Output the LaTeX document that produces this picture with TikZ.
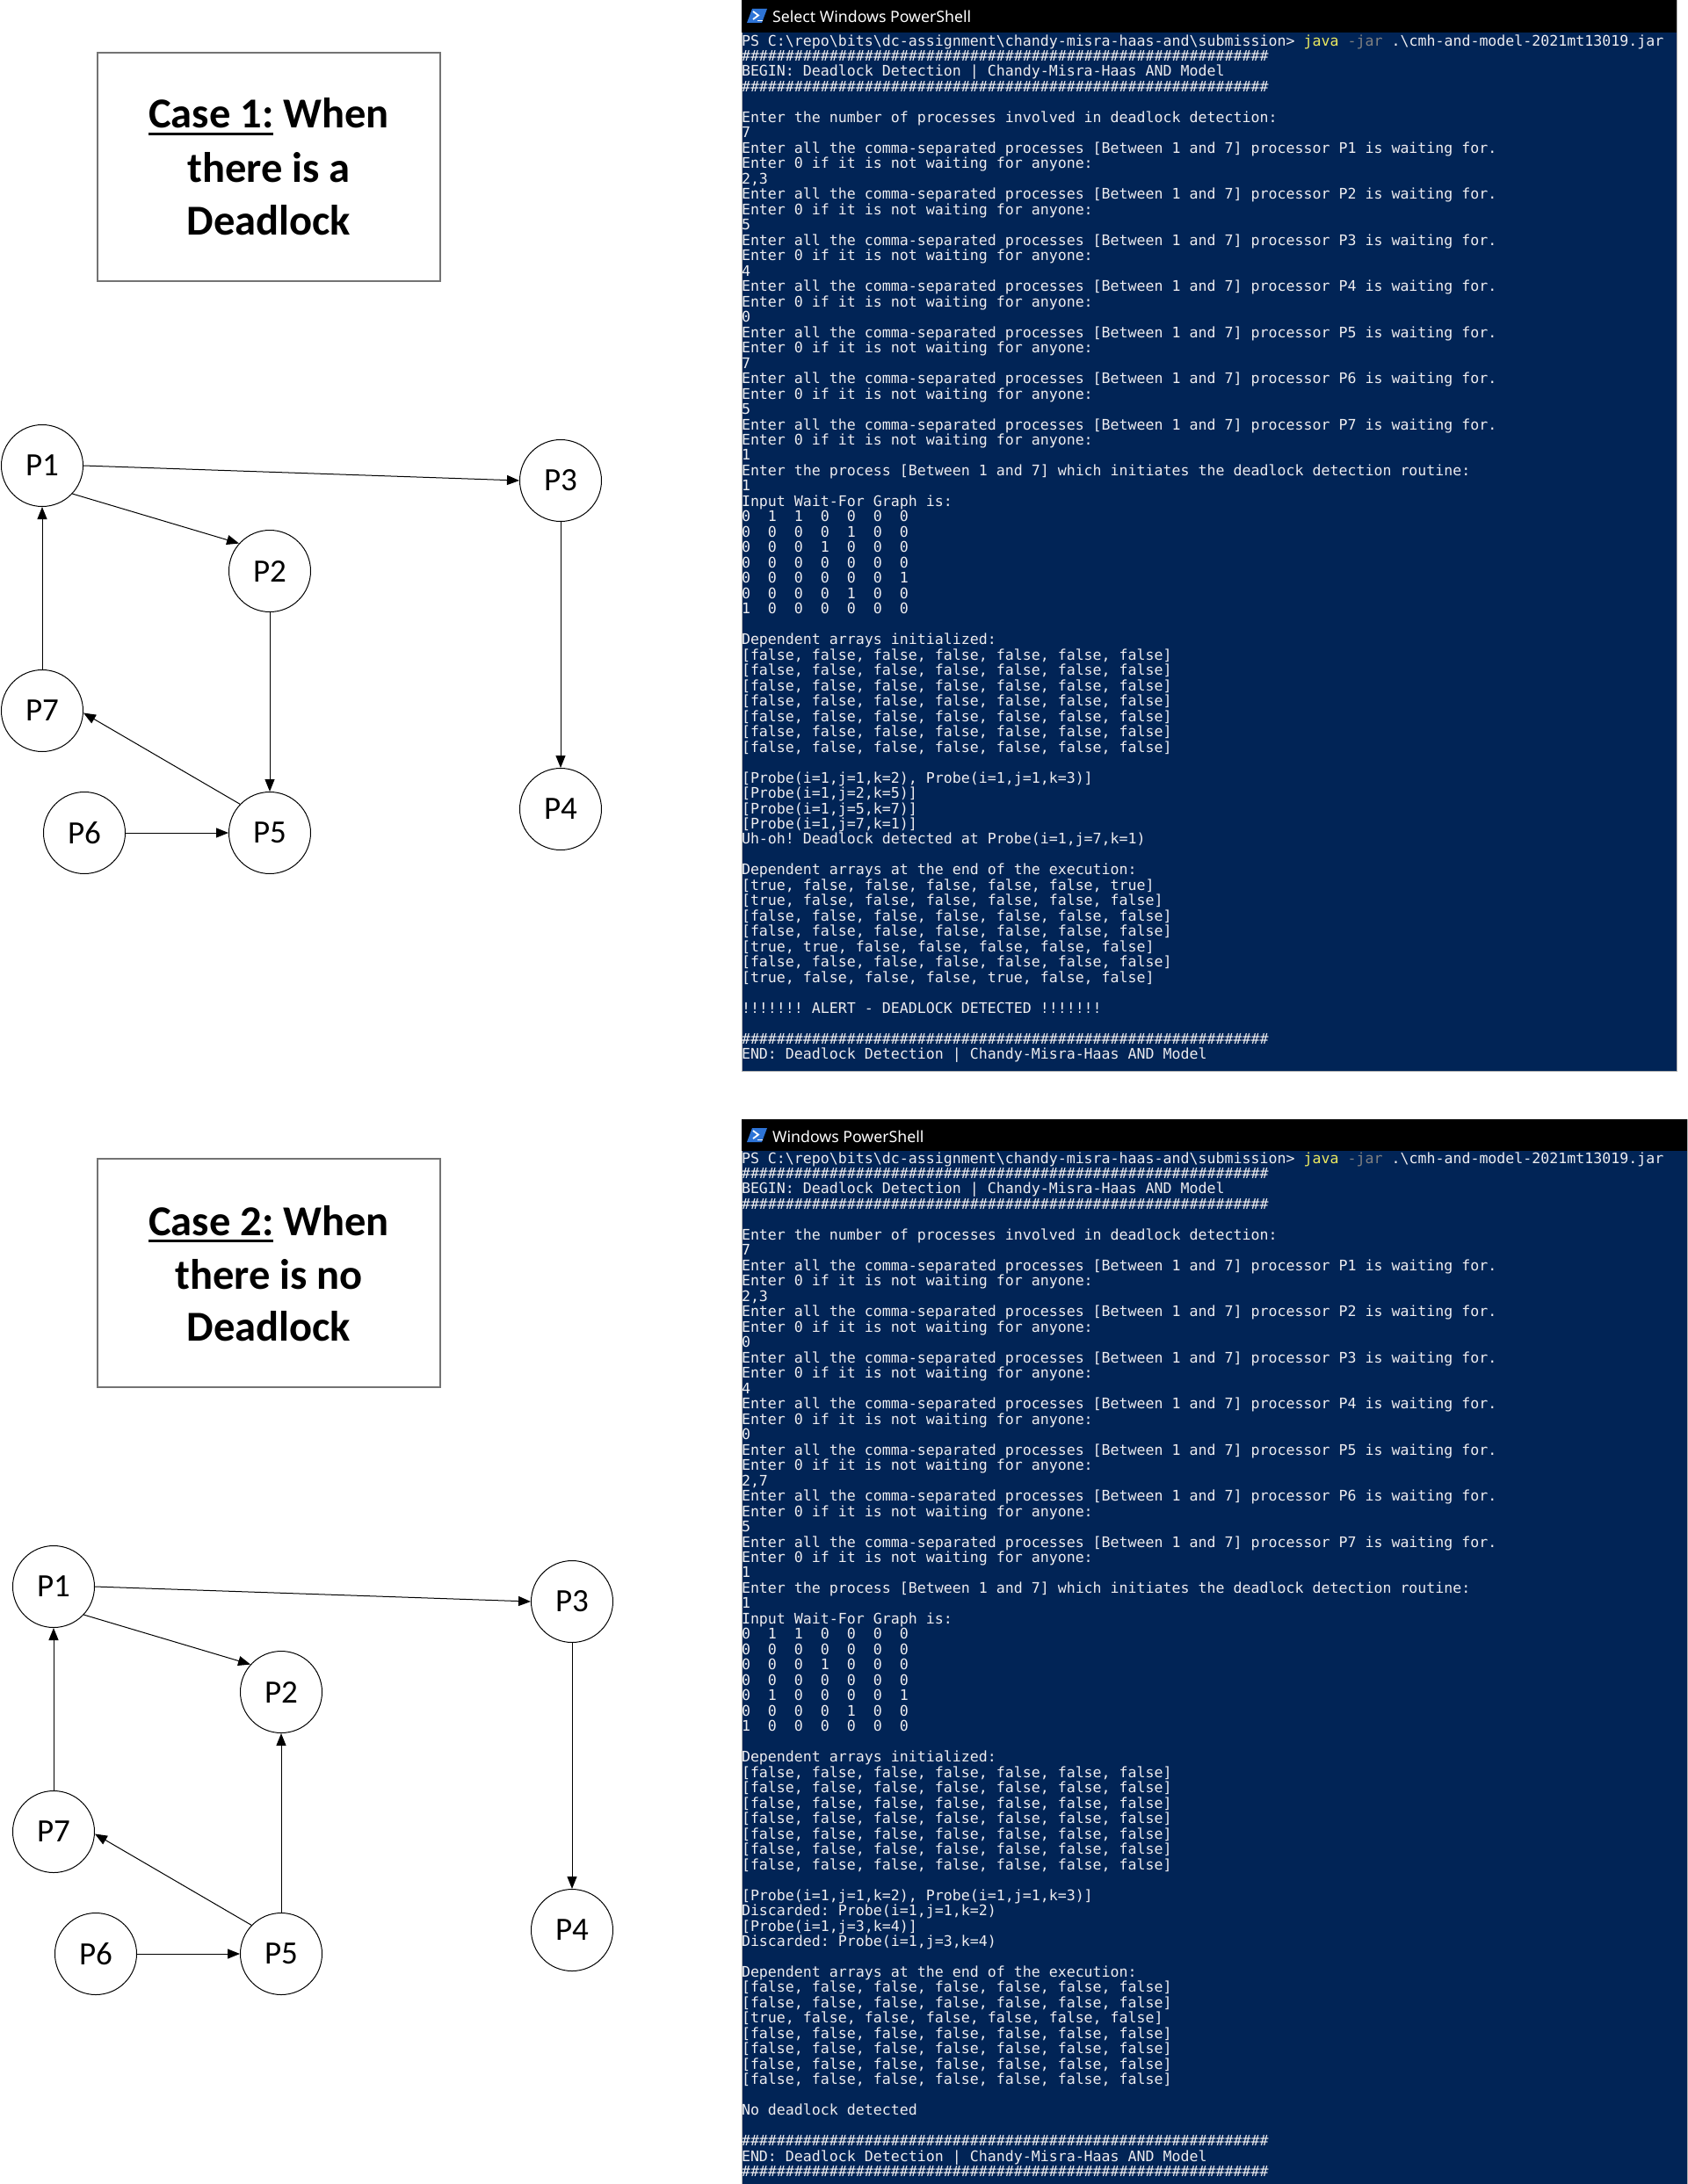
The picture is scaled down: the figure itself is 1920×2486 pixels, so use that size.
\documentclass[tikz,border=0pt]{standalone}
\usepackage{fontspec}
\usepackage{tikz}
\usetikzlibrary{arrows.meta}
\newfontfamily\calfont{Carlito}
\newfontfamily\consfont{DejaVu Sans Mono}
\newfontfamily\uifont{Noto Sans}
\definecolor{psbg}{RGB}{1,36,86}
\definecolor{psfg}{RGB}{238,237,240}
\definecolor{psyellow}{RGB}{236,233,96}
\definecolor{psgray}{RGB}{128,128,128}
\definecolor{psicon}{RGB}{46,116,214}

\newcommand{\termline}[1]{\hbox{\vrule height13pt depth4.48pt width0pt\relax #1}}
\newcommand{\bsl}{\textbackslash}
\newcommand{\tenhash}{\#\#\#\#\#\#\#\#\#\#}
\newcommand{\hashrow}{\tenhash\tenhash\tenhash\tenhash\tenhash\tenhash}
\newcommand{\wfrow}[7]{#1~~#2~~#3~~#4~~#5~~#6~~#7}
\newcommand{\allfalse}{[false, false, false, false, false, false, false]}
\newcommand{\enterall}[1]{Enter all the comma-separated processes [Between 1 and 7] processor P#1 is waiting for.}
\newcommand{\enterzero}{Enter 0 if it is not waiting for anyone:}
\newcommand{\pscmd}{PS C:\bsl repo\bsl bits\bsl dc-assignment\bsl chandy-misra-haas-and\bsl submission> \textcolor{psyellow}{java} \textcolor{psgray}{-jar} .\bsl cmh-and-model-2021mt13019.jar}
\newcommand{\caseul}[1]{\setbox0\hbox{#1}\rlap{\rule[-8.3pt]{\wd0}{3.2pt}}\box0\relax}

\tikzset{
  proc/.style={circle, draw, line width=1pt, minimum size=93pt, inner sep=0pt,
    font=\calfont\fontsize{37}{44}\selectfont},
  wf/.style={line width=1pt, -{Triangle[length=14pt, width=11pt]}},
  casebox/.style={draw=black!55, line width=1.5pt, minimum width=390pt,
    minimum height=260pt, inner sep=0pt},
  casetext/.style={anchor=base, inner sep=0pt,
    font=\calfont\bfseries\fontsize{48.5}{60}\selectfont},
  termtext/.style={anchor=north west, inner sep=0pt, outer sep=0pt, text=psfg,
    font=\consfont\fontsize{16.6}{17.48}\selectfont\frenchspacing},
  bartext/.style={anchor=base west, inner sep=0pt, text=white,
    font=\uifont\fontsize{17.7}{21}\selectfont},
}

\begin{document}
\begin{tikzpicture}[x=1pt, y=-1pt]
\newcommand{\procnodes}{%
  \node[proc] (p1) at (48,530) {P1};
  \node[proc] (p2) at (307,650) {P2};
  \node[proc] (p3) at (638,547) {P3};
  \node[proc] (p4) at (638,921) {P4};
  \node[proc] (p5) at (307,948) {P5};
  \node[proc] (p6) at (96,948) {P6};
  \node[proc] (p7) at (48,809) {P7};
}
\newcommand{\psicon}[1]{%
  \begin{scope}[shift={(0,#1)}]
    \fill[psicon] (850,26) -- (867,26) -- (873,10) -- (856,10) -- cycle;
    \draw[white, line width=1.8pt] (857,13) -- (863,17.5) -- (857,22);
    \draw[white, line width=1.8pt] (862,23.5) -- (868,23.5);
  \end{scope}
}
\useasboundingbox (0,0) rectangle (1920,2486);
\fill[white] (0,0) rectangle (1920,2486);

\node[casebox] (case1) at (306,190) {};
\node[casetext] (case1a) at (306,146) {\caseul{Case 1:} When};
\node[casetext] (case1b) at (306,207) {there is a};
\node[casetext] (case1c) at (306,267) {Deadlock};

\node[casebox] (case2) at (306,1449) {};
\node[casetext] (case2a) at (306,1406) {\caseul{Case 2:} When};
\node[casetext] (case2b) at (306,1467) {there is no};
\node[casetext] (case2c) at (306,1526) {Deadlock};

\begin{scope}[name prefix=dl-]
  \procnodes
  \draw[wf] (p1.east) -- (p3.west);
  \draw[wf] (p1.-43) -- (p2.138);
  \draw[wf] (p2) -- (p5);
  \draw[wf] (p3) -- (p4);
  \draw[wf] (p7) -- (p1);
  \draw[wf] (p6) -- (p5);
  \draw[wf] (p5.136) -- (p7.-3);
\end{scope}

\begin{scope}[shift={(13,1276)}, name prefix=nd-]
  \procnodes
  \draw[wf] (p1.east) -- (p3.west);
  \draw[wf] (p1.-43) -- (p2.138);
  \draw[wf] (p5) -- (p2);
  \draw[wf] (p3) -- (p4);
  \draw[wf] (p7) -- (p1);
  \draw[wf] (p6) -- (p5);
  \draw[wf] (p5.136) -- (p7.-3);
\end{scope}

%% first run: deadlock
\fill[psbg, draw=gray!60] (844,0) rectangle (1908,1219);
\fill[black] (844,0) rectangle (1908,37);
\psicon{0}
\node[bartext] (bar1) at (879,26) {Select Windows PowerShell};
\node[termtext] (log1) at (844,39) {\vbox{\offinterlineskip
  \termline{\pscmd}
  \termline{\hashrow}
  \termline{BEGIN: Deadlock Detection | Chandy-Misra-Haas AND Model}
  \termline{\hashrow}
  \termline{}
  \termline{Enter the number of processes involved in deadlock detection:}
  \termline{7}
  \termline{\enterall1}
  \termline{\enterzero}
  \termline{2,3}
  \termline{\enterall2}
  \termline{\enterzero}
  \termline{5}
  \termline{\enterall3}
  \termline{\enterzero}
  \termline{4}
  \termline{\enterall4}
  \termline{\enterzero}
  \termline{0}
  \termline{\enterall5}
  \termline{\enterzero}
  \termline{7}
  \termline{\enterall6}
  \termline{\enterzero}
  \termline{5}
  \termline{\enterall7}
  \termline{\enterzero}
  \termline{1}
  \termline{Enter the process [Between 1 and 7] which initiates the deadlock detection routine:}
  \termline{1}
  \termline{Input Wait-For Graph is:}
  \termline{\wfrow0110000}
  \termline{\wfrow0000100}
  \termline{\wfrow0001000}
  \termline{\wfrow0000000}
  \termline{\wfrow0000001}
  \termline{\wfrow0000100}
  \termline{\wfrow1000000}
  \termline{}
  \termline{Dependent arrays initialized:}
  \termline{\allfalse}
  \termline{\allfalse}
  \termline{\allfalse}
  \termline{\allfalse}
  \termline{\allfalse}
  \termline{\allfalse}
  \termline{\allfalse}
  \termline{}
  \termline{[Probe(i=1,j=1,k=2), Probe(i=1,j=1,k=3)]}
  \termline{[Probe(i=1,j=2,k=5)]}
  \termline{[Probe(i=1,j=5,k=7)]}
  \termline{[Probe(i=1,j=7,k=1)]}
  \termline{Uh-oh! Deadlock detected at Probe(i=1,j=7,k=1)}
  \termline{}
  \termline{Dependent arrays at the end of the execution:}
  \termline{[true, false, false, false, false, false, true]}
  \termline{[true, false, false, false, false, false, false]}
  \termline{\allfalse}
  \termline{\allfalse}
  \termline{[true, true, false, false, false, false, false]}
  \termline{\allfalse}
  \termline{[true, false, false, false, true, false, false]}
  \termline{}
  \termline{!!!!!!! ALERT - DEADLOCK DETECTED !!!!!!!}
  \termline{}
  \termline{\hashrow}
  \termline{END: Deadlock Detection | Chandy-Misra-Haas AND Model}}};

%% second run: no deadlock
\fill[psbg, draw=gray!60] (844,1274) rectangle (1920,2486);
\fill[black] (844,1274) rectangle (1920,1310);
\psicon{1274}
\node[bartext] (bar2) at (879,1300) {Windows PowerShell};
\node[termtext] (log2) at (844,1311) {\vbox{\offinterlineskip
  \termline{\pscmd}
  \termline{\hashrow}
  \termline{BEGIN: Deadlock Detection | Chandy-Misra-Haas AND Model}
  \termline{\hashrow}
  \termline{}
  \termline{Enter the number of processes involved in deadlock detection:}
  \termline{7}
  \termline{\enterall1}
  \termline{\enterzero}
  \termline{2,3}
  \termline{\enterall2}
  \termline{\enterzero}
  \termline{0}
  \termline{\enterall3}
  \termline{\enterzero}
  \termline{4}
  \termline{\enterall4}
  \termline{\enterzero}
  \termline{0}
  \termline{\enterall5}
  \termline{\enterzero}
  \termline{2,7}
  \termline{\enterall6}
  \termline{\enterzero}
  \termline{5}
  \termline{\enterall7}
  \termline{\enterzero}
  \termline{1}
  \termline{Enter the process [Between 1 and 7] which initiates the deadlock detection routine:}
  \termline{1}
  \termline{Input Wait-For Graph is:}
  \termline{\wfrow0110000}
  \termline{\wfrow0000000}
  \termline{\wfrow0001000}
  \termline{\wfrow0000000}
  \termline{\wfrow0100001}
  \termline{\wfrow0000100}
  \termline{\wfrow1000000}
  \termline{}
  \termline{Dependent arrays initialized:}
  \termline{\allfalse}
  \termline{\allfalse}
  \termline{\allfalse}
  \termline{\allfalse}
  \termline{\allfalse}
  \termline{\allfalse}
  \termline{\allfalse}
  \termline{}
  \termline{[Probe(i=1,j=1,k=2), Probe(i=1,j=1,k=3)]}
  \termline{Discarded: Probe(i=1,j=1,k=2)}
  \termline{[Probe(i=1,j=3,k=4)]}
  \termline{Discarded: Probe(i=1,j=3,k=4)}
  \termline{}
  \termline{Dependent arrays at the end of the execution:}
  \termline{\allfalse}
  \termline{\allfalse}
  \termline{[true, false, false, false, false, false, false]}
  \termline{\allfalse}
  \termline{\allfalse}
  \termline{\allfalse}
  \termline{\allfalse}
  \termline{}
  \termline{No deadlock detected}
  \termline{}
  \termline{\hashrow}
  \termline{END: Deadlock Detection | Chandy-Misra-Haas AND Model}
  \termline{\hashrow}}};
\end{tikzpicture}
\end{document}
